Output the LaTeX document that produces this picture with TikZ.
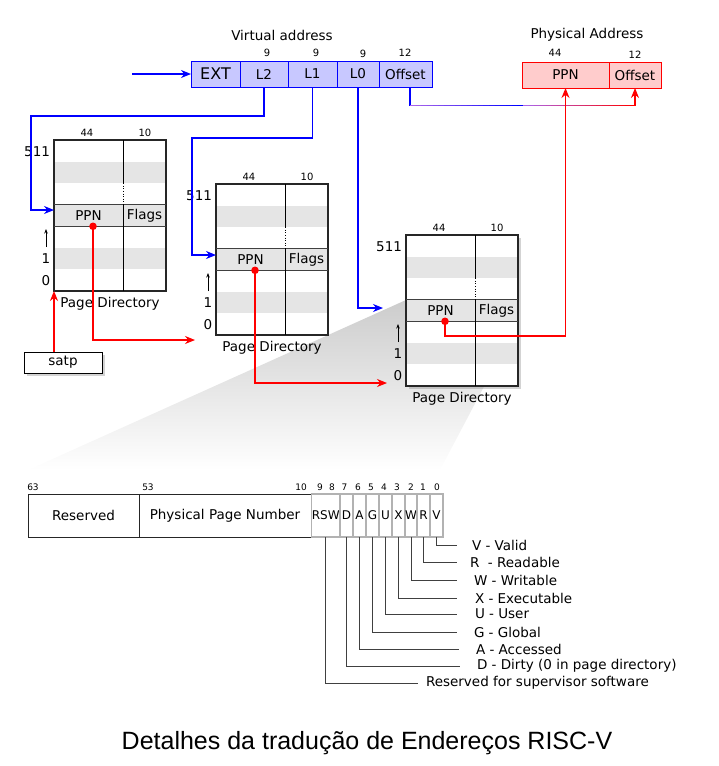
\documentclass[tikz,border=0pt]{standalone}
\usepackage{fontspec}
\setmainfont{DejaVu Sans}
\newfontfamily\titlefont{Liberation Sans}
\usetikzlibrary{arrows.meta,shadows,calc}
\definecolor{vfill}{RGB}{200,200,255}
\definecolor{pfill}{RGB}{255,204,204}
\definecolor{rowgray}{RGB}{229,229,229}
\definecolor{midviolet}{RGB}{170,100,235}
\newcommand\fs[1]{\fontsize{#1}{#1}\selectfont}
\tikzset{
 every node/.style={inner sep=0pt, outer sep=0pt},
 lbl/.style={font=\fs{13.5}},
 small/.style={font=\fs{10}},
 bitnum/.style={font=\fs{9}},
 vbox/.style={draw=blue, fill=vfill, line width=1pt, minimum height=26pt, font=\fs{13.5}},
 pbox/.style={draw=red, fill=pfill, line width=1pt, minimum height=26pt, font=\fs{13.5}},
 barr/.style={draw=blue, line width=1.2pt, -{Stealth[length=10pt,width=8pt]}},
 rarr/.style={draw=red, line width=1.2pt, -{Stealth[length=10pt,width=8pt]}},
 tblframe/.style={draw=black!85, fill=white, line width=1.3pt, minimum width=112pt, minimum height=151pt, anchor=north west},
 shad/.style={drop shadow={shadow xshift=2.5pt, shadow yshift=-2.5pt, opacity=0.35}},
 flagbox/.style={draw=black!30, line width=1.3pt, minimum height=43pt, font=\fs{12}, anchor=west},
 fieldbox/.style={draw=black!85, line width=1pt, minimum height=43pt, font=\fs{13.5}, anchor=west},
 leader/.style={draw=black!75, line width=1pt},
 flaglbl/.style={font=\fs{13.5}, anchor=west},
}
\newcommand\pgtable[4]{%
\begin{scope}[shift={(#2,#3)}]
 \node[tblframe,#4] (#1) at (0,0) {};
 \fill[rowgray] (0,21.57) rectangle (112,43.14);
 \fill[rowgray] (0,64.71) rectangle (112,86.29);
 \fill[rowgray] (0,107.86) rectangle (112,129.43);
 \draw[black!85, line width=1.3pt] (#1.north west) rectangle (#1.south east);
 \draw[black!75, line width=1.4pt] (0,64.71) -- (112,64.71) (0,86.29) -- (112,86.29);
 \draw[black, line width=1pt] (69,0) -- (69,43.14) (69,64.71) -- (69,151);
 \draw[black, line width=0.6pt, dotted] (69,43.14) -- (69,64.71);
 \node[lbl] (#1ppn) at (34.5,76) {PPN};
 \node[lbl] (#1flags) at (90.5,76) {Flags};
 \node[small] (#1wa) at (33,-7) {44};
 \node[small] (#1wb) at (91,-7) {10};
 \node[lbl, anchor=east] (#1top) at (-4,11.5) {511};
 \coordinate (#1up1) at (-8,107);
 \coordinate (#1up2) at (-8,89);
 \draw[black, line width=0.8pt, -{Stealth[length=4.5pt,width=3.5pt]}] (#1up1) -- (#1up2);
 \node[lbl] (#1one) at (-8,119) {1};
 \node[lbl] (#1zero) at (-8,141) {0};
 \node[lbl] (#1cap) at (56,164) {Page Directory};
 \coordinate (#1dot) at (39,86.3);
\end{scope}}
\begin{document}
\begin{tikzpicture}[x=1pt,y=-1pt]
\useasboundingbox (0,0) rectangle (719,766);
% fan
\shade[top color=black!20, middle color=black!11, bottom color=white] (406,300) -- (518,322) -- (440,470) -- (28,470) -- cycle;
% virtual address
\node[lbl] (vatitle) at (282,35) {Virtual address};
\node[vbox, minimum width=49pt, font=\fs{16}] (ext) at (215.5,74) {EXT};
\node[vbox, minimum width=48pt] (l2) at (264,74) {L2};
\node[vbox, minimum width=49pt] (l1) at (312.5,74) {L1};
\node[vbox, minimum width=42pt] (l0) at (358,74) {L0};
\node[vbox, minimum width=53pt] (voff) at (405.5,74) {Offset};
\node[small] (w2) at (267,53) {9};
\node[small] (w1) at (316,53) {9};
\node[small] (w0) at (363,54) {9};
\node[small] (wo) at (405,53) {12};
% physical address
\node[lbl] (patitle) at (587,35) {Physical Address};
\node[pbox, minimum width=87pt] (pppn) at (565.5,75) {PPN};
\node[pbox, minimum width=52pt] (poff) at (635,75) {Offset};
\node[small] (pw1) at (555,53) {44};
\node[small] (pw2) at (635,55) {12};
% tables
\pgtable{t1}{54}{140}{}
\pgtable{t2}{216}{184}{}
\pgtable{t3}{406}{235}{shad}
% satp
\node[draw, fill=white, line width=1pt, minimum width=78pt, minimum height=21pt, lbl, shad] (satp) at (63,362.5) {satp};
% blue connectors
\coordinate (vin) at (132,74);
\draw[barr] (vin) -- (ext.west);
\draw[barr] (l2.south) -- (l2.south |- 0,116) -- (31,116) -- (31,210) -- (t1.west |- 0,210);
\draw[barr] (l1.south) -- (l1.south |- 0,138) -- (192,138) -- (192,255) -- (t2.west |- 0,255);
\draw[barr, shorten >=23pt] (l0.south) -- (l0.south |- 0,308) -- (t3.west |- 0,308);
% offset connector (blue to red)
\coordinate (vo) at ($(voff.south)+(4.5,0)$);
\draw[rarr] (vo) |- (poff.south |- 0,105.6) -- (poff.south);
\draw[blue, line width=1.2pt] (vo) -- (vo |- 0,106.2);
\foreach \i in {0,...,19}{
  \pgfmathsetmacro\p{100-\i*5.26}
  \draw[line width=1.2pt, color=midviolet!\p!blue] (410+\i*5.65,105.6) -- (410+\i*5.65+5.9,105.6);
}
\foreach \i in {0,...,19}{
  \pgfmathsetmacro\p{100-\i*5.26}
  \draw[line width=1.2pt, color=midviolet!\p!red] (523+\i*5.65,105.6) -- (523+\i*5.65+5.9,105.6);
}
% red connectors
\draw[rarr] (t1.south west |- satp.north) -- (t1.south west);
\draw[rarr, shorten >=21pt] (t1dot) -- (t1dot |- 0,340) -- (t2.west |- 0,340);
\draw[rarr, shorten >=19pt] (t2dot) -- (t2dot |- 0,383) -- (t3.west |- 0,383);
\draw[rarr] (t3dot) -- (t3dot |- 0,336) -- (pppn.south |- 0,336) -- (pppn.south);
\fill[red] (t1dot) circle (3.8pt);
\fill[red] (t2dot) circle (3.8pt);
\fill[red] (t3dot) circle (3.8pt);
% entry
\node[fieldbox, minimum width=111pt] (eres) at (28,515.5) {Reserved};
\node[fieldbox, minimum width=172pt] (eppn) at (139,515.5) {Physical Page Number};
\node[flagbox, minimum width=28.5pt] (ersw) at (311.5,515.5) {RSW};
\node[flagbox, minimum width=13pt] (ed) at (340,515.5) {D};
\node[flagbox, minimum width=13pt] (ea) at (353,515.5) {A};
\node[flagbox, minimum width=13pt] (eg) at (366,515.5) {G};
\node[flagbox, minimum width=13pt] (eu) at (379,515.5) {U};
\node[flagbox, minimum width=13pt] (ex) at (392,515.5) {X};
\node[flagbox, minimum width=12pt] (ew) at (405,515.5) {W};
\node[flagbox, minimum width=13pt] (er) at (417,515.5) {R};
\node[flagbox, minimum width=13pt] (ev) at (430,515.5) {V};
% bit numbers
\node[bitnum] (b63) at (33,487) {63};
\node[bitnum] (b53) at (148,487) {53};
\node[bitnum] (b10) at (301,487) {10};
\node[bitnum] (b9) at (320,487) {9};
\node[bitnum] (b8) at (332,487) {8};
\node[bitnum] (b7) at (344.5,487) {7};
\node[bitnum] (b6) at (358,487) {6};
\node[bitnum] (b5) at (371,487) {5};
\node[bitnum] (b4) at (384,487) {4};
\node[bitnum] (b3) at (397,487) {3};
\node[bitnum] (b2) at (411,487) {2};
\node[bitnum] (b1) at (423,487) {1};
\node[bitnum] (b0) at (437,487) {0};
% flag labels
\node[flaglbl, inner xsep=15pt] (lv) at (457,545) {V - Valid};
\node[flaglbl, inner xsep=13pt] (lr) at (457,562) {R~ - Readable};
\node[flaglbl, inner xsep=17pt] (lw) at (457,580) {W - Writable};
\node[flaglbl, inner xsep=18pt] (lx) at (457,598) {X - Executable};
\node[flaglbl, inner xsep=18pt] (lu) at (457,614) {U - User};
\node[flaglbl, inner xsep=17pt] (lg) at (457,632) {G - Global};
\node[flaglbl, inner xsep=17pt] (la) at (459,649) {A - Accessed};
\node[flaglbl, inner xsep=17pt] (ldd) at (460,666) {D - Dirty (0 in page directory)};
\node[flaglbl, inner xsep=8pt] (lrsw) at (418,683) {Reserved for supervisor software};
\draw[leader] (ev.south) |- (lv.west);
\draw[leader] (er.south) |- (lr.west);
\draw[leader] (ew.south) |- (lw.west);
\draw[leader] (ex.south) |- (lx.west);
\draw[leader] (eu.south) |- (lu.west);
\draw[leader] (eg.south) |- (lg.west);
\draw[leader] (ea.south) |- (la.west);
\draw[leader] (ed.south) |- (ldd.west);
\draw[leader] (ersw.south) |- (lrsw.west);
% title
\node[font=\titlefont\fs{25}] (title) at (367,743) {Detalhes da tradução de Endereços RISC-V};
\end{tikzpicture}
\end{document}
